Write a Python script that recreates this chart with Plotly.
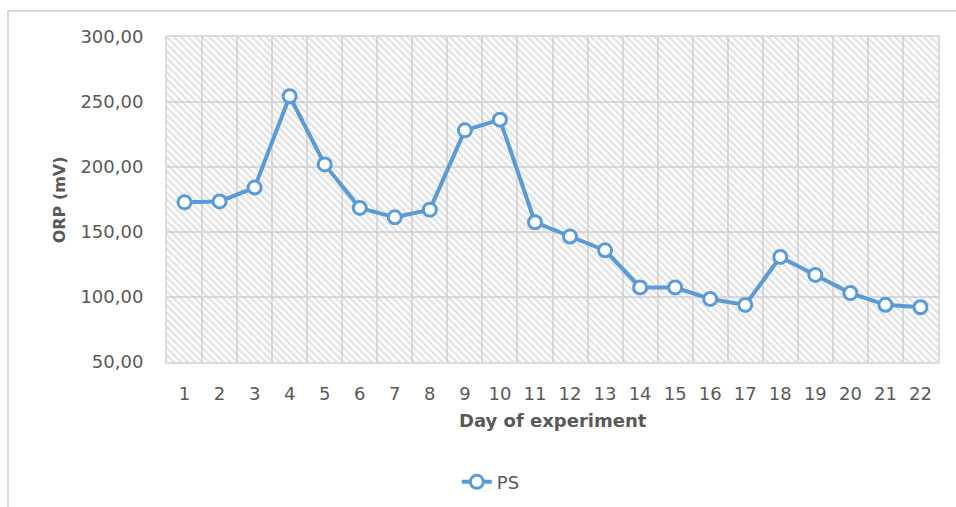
import plotly.graph_objects as go

days = list(range(1, 23))
day_labels = [str(d) for d in days]
orp_ps = [172.8, 173.5, 184.2, 254.4, 202.0, 168.5, 161.3, 167.2, 228.2, 236.4, 157.5,
          146.5, 135.9, 107.4, 107.4, 98.5, 93.9, 130.8, 117.0, 103.0, 94.0, 92.1]
y_ticks = [50, 100, 150, 200, 250, 300]
y_tick_text = ["50,00", "100,00", "150,00", "200,00", "250,00", "300,00"]

Y_MIN, Y_MAX = 50, 300
X_MIN, X_MAX = 0.5, 22.5

FONT = "DejaVu Sans"
GRAY = "#595959"
GRID = "#dcdcdc"
BLUE = "#5b9bd5"

fig = go.Figure()

# hatched plot-area background
fig.add_trace(go.Scatter(
    x=[X_MIN, X_MAX, X_MAX, X_MIN, X_MIN],
    y=[Y_MIN, Y_MIN, Y_MAX, Y_MAX, Y_MIN],
    mode="lines", fill="toself", line=dict(width=0),
    fillcolor="rgba(0,0,0,0)",
    fillpattern=dict(shape="\\", fgcolor="#c8c8c8", bgcolor="rgba(0,0,0,0)",
                     size=5, solidity=0.5),
    hoverinfo="skip", showlegend=False,
))

fig.add_trace(go.Scatter(
    x=days, y=orp_ps, name="PS", mode="lines+markers",
    line=dict(color=BLUE, width=4),
    marker=dict(symbol="circle", size=13, color="white",
                line=dict(color=BLUE, width=3)),
))

fig.update_layout(
    width=956, height=507,
    margin=dict(l=167, r=18, t=37, b=145),
    paper_bgcolor="white", plot_bgcolor="white",
    font=dict(family=FONT, color=GRAY, size=18),
    showlegend=True,
    legend=dict(orientation="h", xref="paper", x=0.42, xanchor="center",
                yref="container", y=0.049, yanchor="middle",
                font=dict(family=FONT, size=18, color=GRAY), bgcolor="rgba(0,0,0,0)"),
    xaxis=dict(range=[X_MIN, X_MAX], tickmode="array", tickvals=days, ticktext=day_labels,
               showgrid=False, zeroline=False, ticks="",
               showline=True, mirror=True, linecolor=GRID, linewidth=2,
               ticklabelstandoff=14,
               tickfont=dict(family=FONT, size=18, color=GRAY),
               minor=dict(tick0=0.5, dtick=1, showgrid=True, gridcolor=GRID, gridwidth=2, ticks="")),
    yaxis=dict(range=[Y_MIN, Y_MAX], tickmode="array", tickvals=y_ticks, ticktext=y_tick_text,
               showgrid=True, gridcolor=GRID, gridwidth=2, zeroline=False, ticks="",
               showline=True, mirror=True, linecolor=GRID, linewidth=2,
               ticklabelstandoff=18,
               tickfont=dict(family=FONT, size=18, color=GRAY)),
    annotations=[
        dict(text="<b>ORP (mV)</b>", xref="paper", yref="paper", x=-0.139, y=0.5,
             textangle=-90, showarrow=False, xanchor="center", yanchor="middle",
             font=dict(family=FONT, size=16, color=GRAY)),
        dict(text="<b>Day of experiment</b>", xref="paper", yref="paper", x=0.5, y=-0.1815,
             showarrow=False, xanchor="center", yanchor="middle",
             font=dict(family=FONT, size=18, color=GRAY)),
    ],
    shapes=[
        dict(type="rect", xref="paper", yref="paper", x0=-0.2062, x1=1.05, y0=-0.5, y1=1.08,
             line=dict(color="#d9d9d9", width=2), fillcolor="rgba(0,0,0,0)", layer="below"),
    ],
)

fig.write_html("out.html", config={"displayModeBar": False},
               post_script="document.body.style.margin='0';document.body.style.overflow='hidden';")
